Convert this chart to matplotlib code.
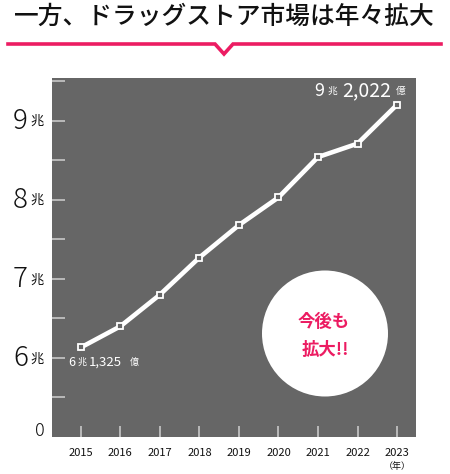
import matplotlib
matplotlib.use("Agg")
import matplotlib.pyplot as plt
from matplotlib.patches import Ellipse

plt.rcParams['font.family'] = ['Noto Sans CJK JP', 'DejaVu Sans']

# データ（兆円）
years = [2015, 2016, 2017, 2018, 2019, 2020, 2021, 2022, 2023]
sales = [6.1325, 6.40, 6.80, 7.27, 7.68, 8.03, 8.54, 8.71, 9.2022]
ytick_vals = [6, 7, 8, 9]
ytick_minor = [5.5, 6.5, 7.5, 8.5, 9.5]

PINK = '#ec1c62'
BG = '#666666'
W, H = 450, 474


def px(x, y):
    # ピクセル座標 -> figure座標
    return x / W, 1 - y / H


fig = plt.figure(figsize=(W / 100, H / 100), dpi=100)
renderer = fig.canvas.get_renderer()


def chain(x, y, parts, color='white'):
    # (文字列, サイズ, 後ろの余白px) を左から順に並べる
    for s, size, gap in parts:
        t = fig.text(*px(x, y), s, ha='left', va='center', fontsize=size, color=color)
        x += t.get_window_extent(renderer).width + gap


# タイトル
fig.text(*px(224, 17), '一方、ドラッグストア市場は年々拡大', ha='center', va='center',
         fontsize=17.8, fontweight='medium', color='#111111')
# ピンクの線（V字の切り込み）
lx = [8, 215, 224, 233, 441]
ly = [44, 44, 54, 44, 44]
fig.add_artist(plt.Line2D([x / W for x in lx], [1 - y / H for y in ly], color=PINK,
                          lw=2.6, solid_joinstyle='miter', transform=fig.transFigure))

ax = fig.add_axes([52 / W, 1 - 437 / H, (416 - 52) / W, (437 - 78) / H])
ax.set_facecolor(BG)
for s in ax.spines.values():
    s.set_visible(False)

ax.plot(years, sales, color='white', lw=3.3, marker='s', markersize=5,
        markerfacecolor=BG, markeredgecolor='white', markeredgewidth=1.3, zorder=3)

ax.set_xlim(2014.27, 2023.48)
ax.set_ylim(5.0, 9.54)

ax.set_xticks(years)
ax.set_xticklabels([])
ax.set_yticks(ytick_vals + ytick_minor)
ax.set_yticklabels([])
ax.tick_params(axis='y', direction='in', length=9, width=1.2, color='#c8c8c8', left=True)
ax.tick_params(axis='x', direction='in', length=8, width=1.2, color='#c8c8c8', bottom=True)

# 軸ラベル
for v in ytick_vals:
    yf = ax.transData.transform((2015, v))[1] / H
    fig.text(28 / W, yf, str(v), ha='right', va='center', fontsize=20, fontweight='light',
             color='#111111')
    fig.text(44 / W, yf - 0.002, '兆', ha='right', va='center', fontsize=9.5, color='#111111')
fig.text(*px(45, 431), '0', ha='right', va='center', fontsize=13, fontweight='light',
         color='#111111')

for yr in years:
    xf = ax.transData.transform((yr, 5))[0] / W
    fig.text(xf, 1 - 453 / H, str(yr), ha='center', va='center', fontsize=8,
             color='#111111')
fig.text(*px(397, 467), '（年）', ha='center', va='center', fontsize=6.5, color='#111111')

# 値ラベル
chain(314, 91, [('9', 13, 4), ('兆', 7, 4), ('2,022', 14, 5), ('億', 7, 0)])
chain(68, 362, [('6', 9, 3), ('兆', 6.5, 2), ('1,325', 9.5, 8), ('億', 6.5, 0)])

# 円
fig.add_artist(Ellipse(px(325, 333.5), 126 / W, 126 / H, transform=fig.transFigure,
                       facecolor='white', edgecolor='none', zorder=5))
fig.text(*px(324, 322), '今後も', ha='center', va='center', fontsize=12.5,
         fontweight='bold', color=PINK, zorder=6)
fig.text(*px(325, 350), '拡大!!', ha='center', va='center', fontsize=12.5,
         fontweight='bold', color=PINK, zorder=6)

fig.savefig('out.png', dpi=100)
